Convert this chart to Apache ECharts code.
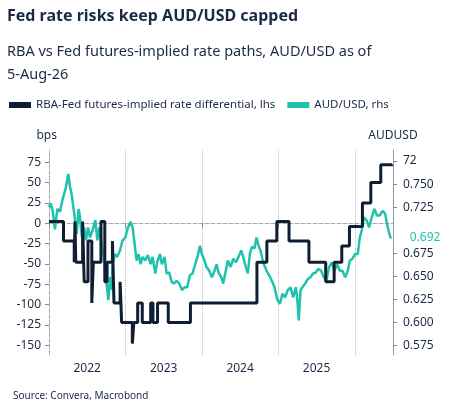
<!DOCTYPE html>
<html>
<head>
<meta charset="utf-8">
<script src="https://cdn.jsdelivr.net/npm/echarts@6/dist/echarts.min.js"></script>
<style>
body{margin:0;background:#fff;}
#chart{width:453px;height:415px;}
</style>
</head>
<body>
<div id="chart"></div>
<script>
// RBA-Fed differential (bps), step changes: [decimal year, level]
var diffYears=[2022.00,2022.19,2022.33,2022.34,2022.35,2022.44,2022.46,2022.51,2022.56,2022.58,2022.68,2022.73,2022.76,2022.83,2022.85,2022.93,2022.95,2023.09,2023.11,2023.16,2023.22,2023.33,2023.36,2023.42,2023.56,2023.85,2024.72,2024.85,2024.98,2025.14,2025.40,2025.62,2025.73,2025.83,2025.93,2026.10,2026.21,2026.34,2026.48];
var diffValues=[2,-22,-48,2,-48,2,-72,-22,-98,-48,2,-72,-48,-22,-98,-72,-122,-148,-122,-98,-122,-98,-122,-98,-122,-98,-48,-22,2,-22,-48,-72,-48,-28,-4,25,50,72,70];

// AUD/USD
var audYears=[2022.000,2022.022,2022.048,2022.078,2022.109,2022.144,2022.179,2022.218,2022.253,2022.275,2022.296,2022.327,2022.362,2022.388,2022.405,2022.431,2022.458,2022.484,2022.510,2022.536,2022.571,2022.606,2022.632,2022.658,2022.688,2022.719,2022.745,2022.776,2022.797,2022.815,2022.832,2022.863,2022.893,2022.928,2022.963,2022.998,2023.033,2023.068,2023.094,2023.120,2023.146,2023.172,2023.198,2023.224,2023.259,2023.294,2023.329,2023.355,2023.390,2023.416,2023.451,2023.477,2023.512,2023.538,2023.573,2023.603,2023.634,2023.669,2023.704,2023.739,2023.773,2023.808,2023.843,2023.878,2023.913,2023.948,2023.974,2024.000,2024.026,2024.061,2024.096,2024.131,2024.166,2024.192,2024.218,2024.253,2024.279,2024.305,2024.340,2024.375,2024.410,2024.444,2024.479,2024.514,2024.540,2024.575,2024.601,2024.627,2024.654,2024.688,2024.715,2024.741,2024.767,2024.802,2024.845,2024.880,2024.915,2024.950,2024.985,2025.020,2025.054,2025.089,2025.124,2025.159,2025.194,2025.229,2025.246,2025.268,2025.290,2025.316,2025.351,2025.386,2025.420,2025.455,2025.490,2025.525,2025.560,2025.595,2025.630,2025.664,2025.699,2025.734,2025.769,2025.804,2025.839,2025.874,2025.909,2025.935,2025.969,2026.004,2026.039,2026.065,2026.092,2026.118,2026.153,2026.187,2026.222,2026.257,2026.292,2026.327,2026.362,2026.397,2026.431,2026.466,2026.484];
var audValues=[0.725,0.729,0.721,0.701,0.723,0.720,0.734,0.745,0.761,0.747,0.739,0.720,0.696,0.723,0.714,0.692,0.703,0.689,0.703,0.692,0.700,0.711,0.689,0.703,0.685,0.671,0.649,0.624,0.649,0.635,0.663,0.674,0.671,0.678,0.689,0.692,0.703,0.709,0.703,0.685,0.667,0.674,0.663,0.671,0.667,0.673,0.663,0.671,0.653,0.665,0.674,0.663,0.671,0.653,0.654,0.644,0.642,0.645,0.642,0.635,0.638,0.638,0.651,0.653,0.663,0.673,0.683,0.674,0.669,0.660,0.656,0.649,0.656,0.663,0.654,0.649,0.642,0.653,0.667,0.660,0.669,0.665,0.671,0.678,0.671,0.660,0.653,0.674,0.682,0.680,0.692,0.683,0.678,0.665,0.656,0.651,0.645,0.638,0.625,0.620,0.631,0.627,0.635,0.638,0.627,0.638,0.627,0.602,0.635,0.638,0.642,0.647,0.649,0.653,0.654,0.658,0.656,0.649,0.645,0.660,0.665,0.656,0.663,0.656,0.656,0.649,0.656,0.667,0.669,0.674,0.674,0.692,0.700,0.714,0.711,0.703,0.714,0.723,0.716,0.716,0.721,0.718,0.703,0.692,0.692];

var leftTicks=[-150,-125,-100,-75,-50,-25,0,25,50,75];
var rightTicks=[0.575,0.6,0.625,0.65,0.675,0.725,0.75,0.775];
var yearTicks=[2022,2023,2024,2025,2026];
var yearLabels=[2022.5,2023.5,2024.5,2025.5];

var navy='#0f1e33', cyan='#1fc3ad', txt='#1b2a44';
var F='Noto Sans';

function zip(a,b){return a.map(function(x,i){return [x,b[i]];});}

var chart=echarts.init(document.getElementById('chart'));
chart.setOption({
  animation:false,
  textStyle:{fontFamily:F},
  title:[
    {text:'Fed rate risks keep AUD/USD capped',left:2,top:3,textStyle:{fontSize:16,fontWeight:'bold',color:txt,fontFamily:F}},
    {text:'RBA vs Fed futures-implied rate paths, AUD/USD as of\n5-Aug-26',left:2,top:35,textStyle:{fontSize:14.5,fontWeight:'normal',color:txt,lineHeight:23,fontFamily:F}},
    {text:'Source: Convera, Macrobond',left:8,top:386,textStyle:{fontSize:10,fontWeight:'normal',color:txt,fontFamily:F}}
  ],
  legend:{left:4,top:94,itemGap:12,itemWidth:22,itemHeight:6,textStyle:{fontSize:11.5,color:txt,fontFamily:F},
    data:[{name:'RBA-Fed futures-implied rate differential, lhs',icon:'rect'},{name:'AUD/USD, rhs',icon:'rect'}]},
  grid:{left:49,right:60,top:150,bottom:60},
  xAxis:{type:'value',min:2022,max:2026.5,interval:1,
    axisLine:{lineStyle:{color:'#aaa',type:'dashed'}},
    axisTick:{customValues:yearTicks,length:5,lineStyle:{color:'#888'}},
    axisLabel:{customValues:yearLabels,formatter:function(v){return Math.floor(v);},color:txt,fontSize:12},
    splitLine:{show:true,lineStyle:{color:'#bbb',type:'dotted'}}},
  yAxis:[
    {type:'value',min:-162,max:90,name:'bps',nameLocation:'end',nameGap:8,nameTextStyle:{color:txt,fontSize:12,align:'right',padding:[0,-8,0,0]},
      axisLine:{show:true,lineStyle:{color:'#aaa',type:'dashed'}},
      axisTick:{show:true,customValues:leftTicks,length:4,lineStyle:{color:'#888'}},
      axisLabel:{customValues:leftTicks,color:txt,fontSize:12},splitLine:{show:false}},
    {type:'value',min:0.5645,max:0.787,name:'AUDUSD',nameLocation:'end',nameGap:8,nameTextStyle:{color:txt,fontSize:12},
      axisLine:{show:true,lineStyle:{color:'#999'}},
      axisTick:{show:true,customValues:rightTicks,length:4,lineStyle:{color:'#888'}},
      axisLabel:{customValues:rightTicks,color:txt,fontSize:12,margin:10,formatter:function(v){return Math.abs(v-0.775)<1e-6?'72':v.toFixed(3);}},
      splitLine:{show:false}}
  ],
  series:[
    {name:'RBA-Fed futures-implied rate differential, lhs',type:'line',step:'end',yAxisIndex:0,showSymbol:false,
      data:zip(diffYears,diffValues),color:navy,lineStyle:{width:3,color:navy},z:3},
    {name:'AUD/USD, rhs',type:'line',yAxisIndex:1,showSymbol:false,
      data:zip(audYears,audValues),color:cyan,lineStyle:{width:2.5,color:cyan},z:2,
      endLabel:{show:true,formatter:function(p){return p.value[1].toFixed(3);},color:cyan,fontSize:12,distance:18}}
  ]
});
</script>
</body>
</html>
